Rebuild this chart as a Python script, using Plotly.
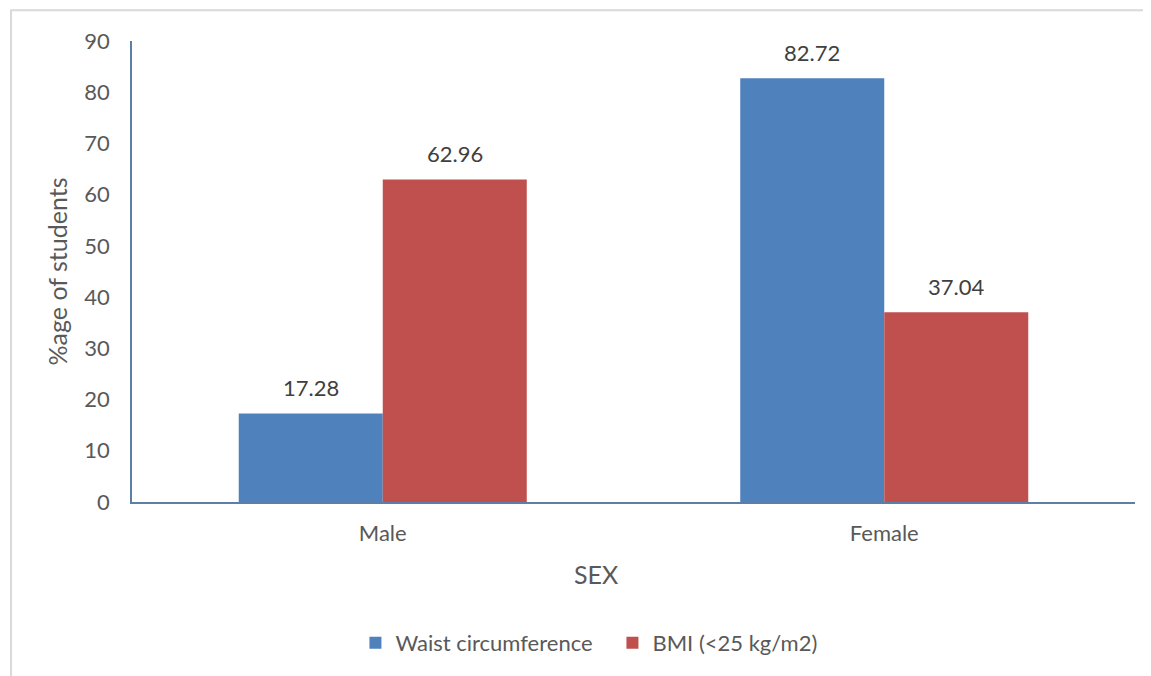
import plotly.graph_objects as go

categories = ["Male", "Female"]
waist = [17.28, 82.72]
bmi = [62.96, 37.04]
series_names = ["Waist circumference", "BMI (<25 kg/m2)"]
tick_vals = [0, 10, 20, 30, 40, 50, 60, 70, 80, 90]
x_title = "SEX"
y_title = "%age of students"

font_family = "Lato, Open Sans, sans-serif"
gray = "#595959"
fs_tick = 22
fs_title = 25
fs_legend = 22

fig = go.Figure()
fig.add_trace(go.Bar(x=categories, y=waist, name=series_names[0], marker_color="#4F81BD",
                     marker_line_width=0))
fig.add_trace(go.Bar(x=categories, y=bmi, name=series_names[1], marker_color="#C0504D",
                     marker_line_width=0))

annotations = []
for vals, shift in ((waist, -72), (bmi, 72)):
    for c, v in zip(categories, vals):
        annotations.append(dict(x=c, y=v, xref="x", yref="y", text=f"{v:.2f}", showarrow=False,
                                xshift=shift, yshift=26, yanchor="middle",
                                font=dict(size=fs_tick, color="#404040", family=font_family)))
annotations.append(dict(x=0.4626, y=-0.157, xref="paper", yref="paper", text=x_title,
                        showarrow=False, xanchor="center", yanchor="middle",
                        font=dict(size=fs_title, color=gray, family=font_family)))

fig.update_layout(
    width=1143, height=668,
    margin=dict(l=124, r=16, t=33, b=171),
    paper_bgcolor="white", plot_bgcolor="white",
    barmode="group", bargap=0.4257, bargroupgap=0,
    font=dict(family=font_family, size=fs_tick, color=gray),
    showlegend=True,
    legend=dict(orientation="h", x=0.479, xanchor="center", y=-0.306, yanchor="middle",
                font=dict(size=fs_legend, color=gray), traceorder="normal",
                entrywidth=212, entrywidthmode="pixels", itemwidth=30),
    xaxis=dict(showline=True, linecolor="#5b7fa6", linewidth=1.5, ticks="outside",
               ticklen=11, tickcolor="rgba(0,0,0,0)",
               tickfont=dict(size=fs_tick, color=gray)),
    yaxis=dict(range=[0, 90], tickvals=tick_vals, showgrid=False, zeroline=False,
               showline=True, linecolor="#5b7fa6", linewidth=1.5, ticks="outside",
               ticklen=16, tickcolor="rgba(0,0,0,0)",
               title=dict(text=y_title, font=dict(size=fs_title, color=gray), standoff=10),
               tickfont=dict(size=fs_tick, color=gray)),
    annotations=annotations,
    shapes=[dict(type="rect", xref="paper", yref="paper", x0=-0.1206, x1=1.03, y0=-0.6, y1=1.0668,
                 line=dict(color="#d9d9d9", width=2), fillcolor="rgba(0,0,0,0)", layer="below")],
)
fig.write_html("out.html")
